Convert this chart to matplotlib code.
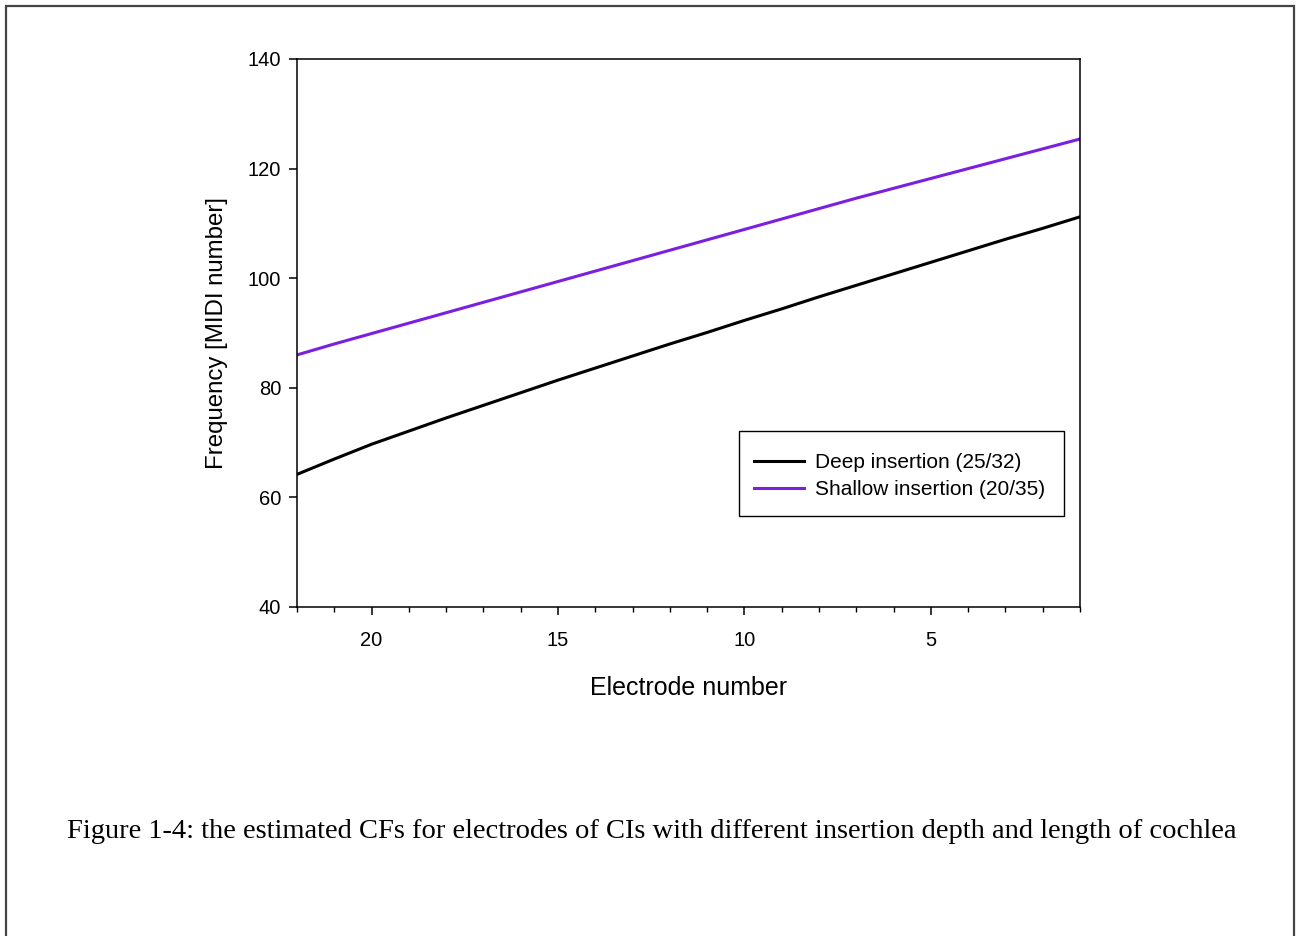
import matplotlib.pyplot as plt
from matplotlib.patches import Rectangle
from matplotlib.ticker import MultipleLocator

# electrode numbers (x axis runs from 22 down to 1)
electrodes = [22, 21, 20, 19, 18, 17, 16, 15, 14, 13, 12, 11,
              10, 9, 8, 7, 6, 5, 4, 3, 2, 1]
deep = [64.2, 67.0, 69.7, 72.1, 74.5, 76.8, 79.1, 81.4, 83.6, 85.8, 88.0, 90.1,
        92.3, 94.4, 96.6, 98.7, 100.8, 102.9, 105.0, 107.1, 109.1, 111.2]
shallow = [86.0, 88.0, 89.9, 91.8, 93.7, 95.6, 97.5, 99.4, 101.3, 103.2, 105.1, 107.0,
           108.9, 110.8, 112.7, 114.6, 116.4, 118.2, 120.0, 121.8, 123.6, 125.4]
labels = ["Deep insertion (25/32)", "Shallow insertion (20/35)"]
caption = ("Figure 1-4: the estimated CFs for electrodes of CIs with different "
           "insertion depth and length of cochlea")

plt.rcParams['font.family'] = ['Liberation Sans', 'DejaVu Sans']

fig = plt.figure(figsize=(13.04, 9.36), dpi=100)
ax = fig.add_axes([297 / 1304, 1 - 607 / 936, (1080 - 297) / 1304, (607 - 59) / 936])

ax.plot(electrodes, deep, color='black', lw=2.2, label=labels[0])
ax.plot(electrodes, shallow, color='#7B1FE0', lw=2.2, label=labels[1])

ax.set_xlim(22, 1)
ax.set_ylim(40, 140)
ax.xaxis.set_major_locator(MultipleLocator(5))
ax.xaxis.set_minor_locator(MultipleLocator(1))
ax.yaxis.set_major_locator(MultipleLocator(20))
ax.tick_params(axis='both', which='major', direction='out', length=6, width=1.1,
               labelsize=14.5, top=False, right=False)
ax.tick_params(axis='x', which='major', pad=11)
ax.tick_params(axis='y', which='major', pad=5.5)
ax.tick_params(axis='x', which='minor', direction='out', length=3.5, width=1.0, top=False)
for s in ax.spines.values():
    s.set_linewidth(1.1)

ax.set_xlabel("Electrode number", fontsize=18, labelpad=19)
ax.set_ylabel("Frequency [MIDI number]", fontsize=17.3, labelpad=14)

# legend entries without their own frame, box drawn separately
leg = ax.legend(loc='upper left', bbox_to_anchor=((754 - 297) / 783, (607 - 453) / 548),
                fontsize=15, frameon=False, handlelength=2.4, borderpad=0,
                labelspacing=0.4, handletextpad=0.55, borderaxespad=0)
ax.add_patch(Rectangle(((739 - 297) / 783, (607 - 516) / 548), 325 / 783, 85 / 548,
                       transform=ax.transAxes, fill=False, edgecolor='black',
                       lw=1.0, zorder=5))

fig.text(67 / 1304, 1 - 832 / 936, caption, family=['Liberation Serif', 'DejaVu Serif'],
         fontsize=20.5, va='center', ha='left')

# outer page frame
fig.patches.append(Rectangle((6 / 1304, -0.05), (1294 - 6) / 1304, 1.05 - 6 / 936,
                             transform=fig.transFigure, fill=False, edgecolor='#444444',
                             lw=1.6))

fig.savefig("out.png", dpi=100)
